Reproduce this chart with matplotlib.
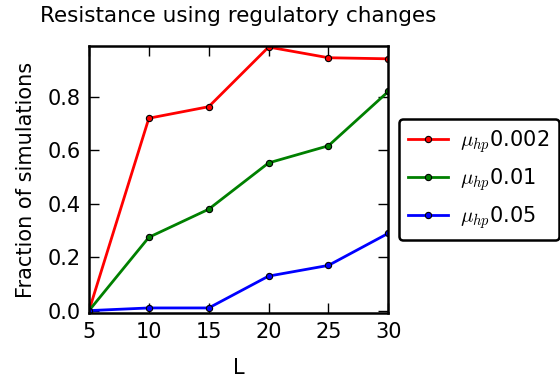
import matplotlib
matplotlib.use("Agg")
import matplotlib.pyplot as plt

# chromosome length L and fraction of simulations reaching resistance
L_values = [5, 10, 15, 20, 25, 30]
frac_mu_0002 = [0.0, 0.719, 0.762, 0.985, 0.945, 0.941]
frac_mu_001 = [0.0, 0.274, 0.379, 0.552, 0.616, 0.819]
frac_mu_005 = [0.0, 0.01, 0.01, 0.129, 0.169, 0.289]
labels = [r'$\mu_{hp}$0.002', r'$\mu_{hp}$0.01', r'$\mu_{hp}$0.05']
colors = ['red', 'green', 'blue']

plt.rcParams['font.family'] = 'DejaVu Sans'
plt.rcParams['mathtext.fontset'] = 'cm'

fig = plt.figure(figsize=(5.6, 3.79), dpi=100)
ax = fig.add_axes([89 / 560, 1 - 313.3 / 379, (388.3 - 89) / 560, (313.3 - 45.7) / 379])

for ys, lab, col in zip([frac_mu_0002, frac_mu_001, frac_mu_005], labels, colors):
    ax.plot(L_values, ys, '-o', color=col, lw=2, markersize=4.5,
            markeredgecolor='black', markeredgewidth=0.8, label=lab)

ax.set_xlim(5, 30)
ax.set_ylim(-0.01, 0.99)
ax.set_xticks([5, 10, 15, 20, 25, 30])
ax.set_yticks([0.0, 0.2, 0.4, 0.6, 0.8])
ax.tick_params(direction='in', length=7, width=1, top=True, right=True, labelsize=15, pad=6)
for sp in ax.spines.values():
    sp.set_linewidth(1.8)

ax.set_xlabel('L', fontsize=15, labelpad=11.5)
ax.set_ylabel('Fraction of simulations', fontsize=15, labelpad=8)
ax.set_title('Resistance using regulatory changes', fontsize=15.5, pad=17)

leg = ax.legend(loc='center left', bbox_to_anchor=(1.0, 0.5), numpoints=1,
                fontsize=15, handlelength=1.9, handletextpad=0.6, borderpad=0.45,
                labelspacing=0.55, fancybox=True, framealpha=1)
leg.get_frame().set_edgecolor('black')
leg.get_frame().set_linewidth(1.8)

fig.savefig('out.png', dpi=100)
